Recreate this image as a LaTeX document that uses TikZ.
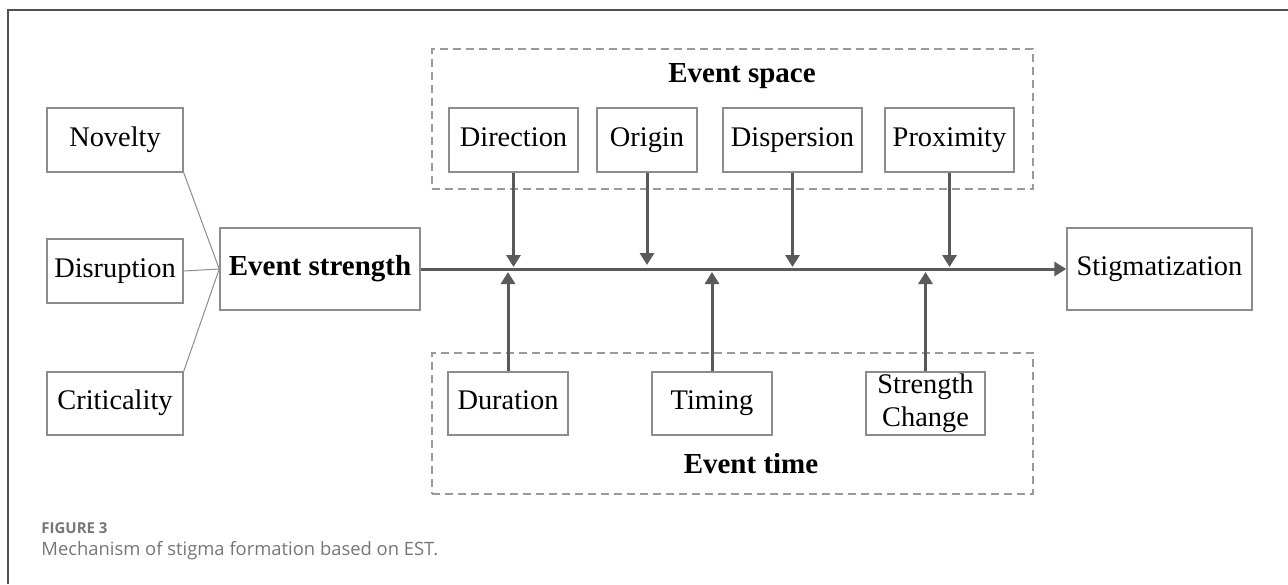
\documentclass[tikz,border=0pt]{standalone}
\usepackage{fontspec}
\setmainfont{Liberation Serif}
\newfontfamily\capfont{Open Sans}
\usetikzlibrary{arrows.meta}
\definecolor{boxgray}{HTML}{8C8C8C}
\definecolor{arrgray}{HTML}{5A5A5A}
\definecolor{dashgray}{HTML}{9A9A9A}
\definecolor{framegray}{HTML}{505050}
\definecolor{capgray}{HTML}{767676}
\tikzset{
  box/.style={draw=boxgray, line width=0.75pt, inner sep=0pt, font=\fontsize{14.2pt}{17pt}\selectfont, align=center},
  one/.style={text height=0.66em, text depth=0.02em},
  dashbox/.style={draw=dashgray, line width=0.7pt, dash pattern=on 4pt off 2.5pt, inner sep=0pt},
  feed/.style={draw=boxgray, line width=0.5pt},
  arr/.style={draw=arrgray, line width=1.5pt, -{Triangle[width=7pt,length=6pt]}},
  title/.style={inner sep=0pt, text height=0.66em, text depth=0.02em, font=\fontsize{14.5pt}{17pt}\selectfont\bfseries},
}
\begin{document}
\begin{tikzpicture}[x=0.5pt,y=-0.5pt]
\useasboundingbox (0,0) rectangle (1288,584);
% frame
\coordinate (f1) at (8,584);
\coordinate (f2) at (8,10);
\coordinate (f3) at (1288,10);
\draw[framegray, line width=1pt] (f1) -- (f2) -- (f3);
% dashed groups
\node[dashbox, minimum width=300.5pt, minimum height=70pt] (spacebox) at (732.5,119) {};
\node[dashbox, minimum width=300.5pt, minimum height=70.5pt] (timebox) at (732.5,423.5) {};
\node[title] (spacet) at (742,76) {Event space};
\node[title] (timet) at (751,467) {Event time};
% left boxes
\node[box, one, minimum width=68pt, minimum height=32pt] (nov) at (115,140) {Novelty};
\node[box, one, minimum width=68pt, minimum height=32pt] (dis) at (115,271) {Disruption};
\node[box, one, minimum width=68pt, minimum height=31.5pt] (cri) at (115,403.5) {Criticality};
\node[box, one, minimum width=100pt, minimum height=41pt, font=\fontsize{14.5pt}{17pt}\selectfont\bfseries] (es) at (320,269) {Event strength};
\node[box, one, minimum width=92.5pt, minimum height=41pt] (stig) at (1159.5,269) {Stigmatization};
% space boxes
\node[box, one, minimum width=64.5pt, minimum height=32pt] (dir) at (513.5,140) {Direction};
\node[box, one, minimum width=50pt, minimum height=32pt] (ori) at (647,140) {Origin};
\node[box, one, minimum width=69.5pt, minimum height=32pt] (disp) at (792.5,140) {Dispersion};
\node[box, one, minimum width=64.5pt, minimum height=32pt] (prox) at (949.5,140) {Proximity};
% time boxes
\node[box, one, minimum width=60pt, minimum height=31.5pt] (dur) at (508,403.5) {Duration};
\node[box, one, minimum width=60pt, minimum height=31.5pt] (tim) at (712,403.5) {Timing};
\node[box, minimum width=59.5pt, minimum height=31.5pt] (sc) at (925.5,403.5) {Strength\\[-0.5pt]Change};
% feeders
\draw[feed] (nov.south east) -- (es.west);
\draw[feed] (dis.east) -- (es.west);
\draw[feed] (cri.north east) -- (es.west);
% main line
\draw[arr] (es.east) -- (stig.west);
% down arrows
\draw[arr] (dir.south) -- ([yshift=1pt]dir.south |- es.east);
\draw[arr] (ori.south) -- ([yshift=2pt]ori.south |- es.east);
\draw[arr] (disp.south) -- ([yshift=1pt]disp.south |- es.east);
\draw[arr] (prox.south) -- ([yshift=1pt]prox.south |- es.east);
% up arrows
\draw[arr] (dur.north) -- ([yshift=-1.5pt]dur.north |- es.east);
\draw[arr] (tim.north) -- ([yshift=-1.5pt]tim.north |- es.east);
\draw[arr] (sc.north) -- ([yshift=-1.5pt]sc.north |- es.east);
% caption
\node[anchor=west, inner sep=0pt, text=capgray, font=\capfont\fontsize{7.5pt}{9pt}\selectfont\bfseries] (figlab) at (41,528) {FIGURE 3};
\node[anchor=west, inner sep=0pt, text=capgray, font=\capfont\fontsize{9.2pt}{11pt}\selectfont] (caption) at (41,551) {Mechanism of stigma formation based on EST.};
\end{tikzpicture}
\end{document}
